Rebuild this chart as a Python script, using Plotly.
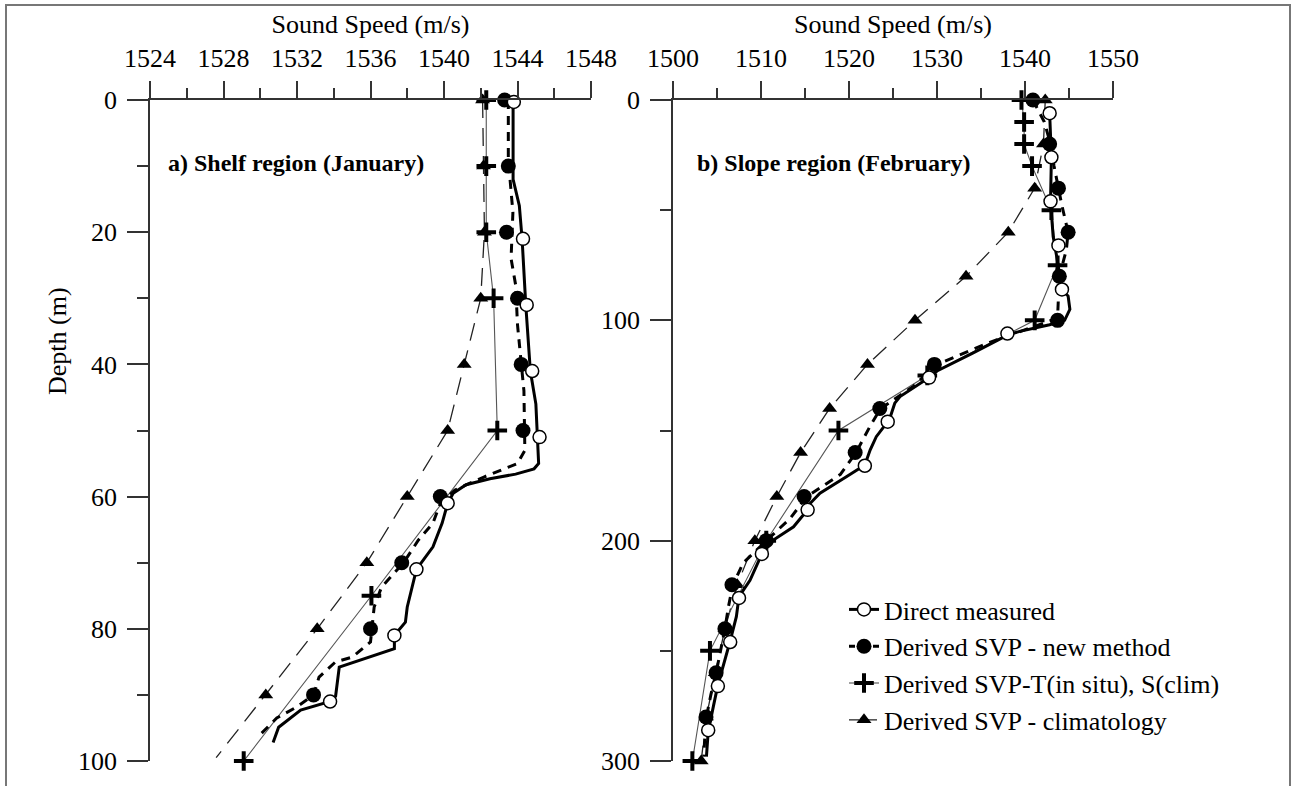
import plotly.graph_objects as go

W, H = 1292, 786
FONT = "Liberation Serif"

# ---------------- Panel a) Shelf region (January) ----------------
a_dir_line_depth = [0, 12, 16, 21, 31, 41, 46, 51, 55, 55.8, 56.6, 57.3, 58.2, 59.5, 61, 64, 67.6, 71, 76.7, 79, 81, 83, 85.8, 90.2, 91, 92.3, 94.9, 97.2]
a_dir_line_speed = [1543.76, 1543.76, 1544.1, 1544.25, 1544.45, 1544.7, 1545.0, 1545.1, 1545.15, 1544.9, 1543.9, 1542.5, 1541.2, 1540.5, 1540.2, 1539.9, 1539.4, 1538.5, 1538.0, 1537.9, 1537.3, 1537.3, 1534.3, 1534.1, 1533.8, 1532.2, 1531.0, 1530.7]
a_dir_mark_depth = [0.3, 21, 31, 41, 51, 61, 71, 81, 91]
a_dir_mark_speed = [1543.8, 1544.3, 1544.5, 1544.8, 1545.2, 1540.2, 1538.5, 1537.3, 1533.8]

a_new_line_depth = [0, 9, 17, 24, 28, 34, 44, 53, 55, 57, 59, 61, 64, 66.6, 70, 73.7, 76.7, 82, 84.3, 85, 87.3, 90, 91.8, 93.5, 96]
a_new_line_speed = [1543.5, 1543.5, 1543.75, 1543.65, 1543.9, 1544.0, 1544.35, 1544.4, 1544.0, 1542.2, 1540.6, 1539.8, 1539.4, 1538.6, 1537.8, 1536.6, 1536.2, 1536.0, 1535.0, 1534.1, 1533.2, 1532.9, 1532.0, 1530.9, 1530.0]
a_new_mark_depth = [0, 10, 20, 30, 40, 50, 60, 70, 80, 90]
a_new_mark_speed = [1543.3, 1543.5, 1543.4, 1544.0, 1544.2, 1544.3, 1539.8, 1537.7, 1536.0, 1532.9]

a_tis_depth = [0, 10, 20, 30, 50, 75, 100]
a_tis_speed = [1542.3, 1542.3, 1542.3, 1542.7, 1542.9, 1536.05, 1529.1]

a_clim_line_depth = [0, 10, 20, 30, 40, 50, 60, 70, 80, 90, 99.5]
a_clim_line_speed = [1542.1, 1542.15, 1542.2, 1542.0, 1541.1, 1540.2, 1538.0, 1535.8, 1533.1, 1530.3, 1527.6]
a_clim_mark_depth = [0, 10, 20, 30, 40, 50, 60, 70, 80, 90]
a_clim_mark_speed = [1542.1, 1542.15, 1542.2, 1542.0, 1541.1, 1540.2, 1538.0, 1535.8, 1533.1, 1530.3]

# ---------------- Panel b) Slope region (February) ----------------
b_dir_line_depth = [6, 26, 46, 51, 62, 71, 81.7, 86, 89, 95, 100, 102, 105, 106.7, 115, 123, 126, 134.6, 137.6, 143.7, 146, 152.8, 158.9, 165.7, 171, 178.5, 183, 186, 193.7, 199.7, 206, 218, 225.4, 234.5, 245.5, 257, 265.5, 275, 286.7, 298]
b_dir_line_speed = [1542.8, 1543.0, 1542.9, 1543.0, 1543.2, 1543.6, 1544.0, 1544.2, 1544.9, 1545.1, 1544.5, 1542.8, 1539.4, 1538.0, 1534.0, 1530.0, 1529.1, 1525.8, 1525.2, 1524.7, 1524.4, 1523.1, 1522.4, 1521.8, 1519.7, 1516.7, 1515.6, 1515.3, 1513.7, 1511.4, 1510.1, 1508.75, 1507.5, 1507.2, 1506.5, 1505.7, 1505.1, 1504.6, 1504.0, 1503.8]
b_dir_mark_depth = [6, 26, 46, 66, 86, 106, 126, 146, 166, 186, 206, 226, 246, 266, 286]
b_dir_mark_speed = [1542.8, 1543.0, 1542.9, 1543.8, 1544.2, 1538.0, 1529.1, 1524.4, 1521.8, 1515.3, 1510.1, 1507.5, 1506.5, 1505.1, 1504.0]

b_new_line_depth = [0, 10, 20, 30, 40, 48, 60, 68, 80, 90, 99, 105, 110, 120, 130, 140, 148, 160, 170, 180, 190, 200, 210, 220, 230, 240, 250, 260, 270, 280, 290, 298]
b_new_line_speed = [1540.9, 1542.2, 1542.9, 1543.3, 1543.8, 1544.2, 1544.9, 1544.7, 1543.9, 1543.8, 1543.7, 1539.5, 1536.0, 1530.0, 1527.3, 1523.6, 1522.4, 1520.8, 1519.0, 1515.2, 1513.3, 1510.6, 1508.0, 1506.8, 1506.3, 1505.9, 1505.4, 1504.9, 1504.3, 1503.8, 1503.6, 1503.5]
b_new_mark_depth = [0, 20, 40, 60, 80, 100, 120, 140, 160, 180, 200, 220, 240, 260, 280]
b_new_mark_speed = [1540.9, 1542.8, 1543.8, 1544.9, 1543.9, 1543.7, 1529.7, 1523.5, 1520.7, 1514.9, 1510.6, 1506.7, 1505.9, 1504.9, 1503.75]

b_tis_depth = [0, 10, 20, 30, 50, 75, 100, 125, 150, 200, 250, 300]
b_tis_speed = [1539.6, 1539.9, 1539.9, 1540.8, 1543.0, 1543.7, 1541.1, 1528.9, 1518.8, 1510.6, 1504.2, 1502.2]

b_clim_depth = [0, 20, 40, 60, 80, 100, 120, 140, 160, 180, 200, 220, 240, 260, 280, 300]
b_clim_speed = [1542.3, 1542.1, 1541.1, 1538.1, 1533.3, 1527.5, 1522.1, 1517.8, 1514.5, 1511.8, 1509.3, 1507.3, 1505.9, 1504.8, 1503.8, 1503.2]

series_names = ["Direct measured", "Derived SVP - new method",
                "Derived SVP-T(in situ), S(clim)", "Derived SVP - climatology"]

fig = go.Figure()

def add_line(x, y, xa, ya, width, dash, color):
    fig.add_trace(go.Scatter(x=x, y=y, xaxis=xa, yaxis=ya, mode="lines",
                             line=dict(color=color, width=width, dash=dash),
                             showlegend=False, cliponaxis=False, hoverinfo="skip"))

def add_marks(x, y, xa, ya, symbol, size, fill, lw=1.5):
    fig.add_trace(go.Scatter(x=x, y=y, xaxis=xa, yaxis=ya, mode="markers",
                             marker=dict(symbol=symbol, size=size, color=fill,
                                         line=dict(color="black", width=lw)),
                             showlegend=False, cliponaxis=False))

DASH_NEW = "9px,7px"
DASH_CLIM = "18px,10px"

for xa, ya, d in [("x", "y", "a"), ("x2", "y2", "b")]:
    g = globals()
    # climatology
    if d == "a":
        add_line(a_clim_line_speed, a_clim_line_depth, xa, ya, 1.3, DASH_CLIM, "#222")
        add_marks(a_clim_mark_speed, a_clim_mark_depth, xa, ya, "triangle-up", 13, "black", 0)
    else:
        add_line(b_clim_speed, b_clim_depth, xa, ya, 1.3, DASH_CLIM, "#222")
        add_marks(b_clim_speed, b_clim_depth, xa, ya, "triangle-up", 13, "black", 0)
    # T in situ
    tis_s, tis_d = g[d + "_tis_speed"], g[d + "_tis_depth"]
    add_line(tis_s, tis_d, xa, ya, 1.1, "solid", "#555")
    add_marks(tis_s, tis_d, xa, ya, "cross-thin", 14, "black", 4)
    # new method
    add_line(g[d + "_new_line_speed"], g[d + "_new_line_depth"], xa, ya, 3, DASH_NEW, "black")
    add_marks(g[d + "_new_mark_speed"], g[d + "_new_mark_depth"], xa, ya, "circle", 15, "black", 0)
    # direct measured
    add_line(g[d + "_dir_line_speed"], g[d + "_dir_line_depth"], xa, ya, 3, "solid", "black")
    add_marks(g[d + "_dir_mark_speed"], g[d + "_dir_mark_depth"], xa, ya, "circle", 13, "white", 1.5)

# legend-only entries
leg_styles = [
    dict(line=dict(color="black", width=3), marker=dict(symbol="circle", size=13, color="white", line=dict(color="black", width=1.5))),
    dict(line=dict(color="black", width=3, dash="6px,6px"), marker=dict(symbol="circle", size=15, color="black")),
    dict(line=dict(color="#555", width=1.1), marker=dict(symbol="cross-thin", size=14, color="black", line=dict(color="black", width=4))),
    dict(line=dict(color="#222", width=1.3, dash="10px,8px"), marker=dict(symbol="triangle-up", size=13, color="black")),
]
for name, st in zip(series_names, leg_styles):
    fig.add_trace(go.Scatter(x=[None], y=[None], mode="lines+markers", name=name,
                             line=st["line"], marker=st["marker"], showlegend=True))

ydom = [(H - 761) / H, (H - 100) / H]
axis_common = dict(showgrid=False, zeroline=False, showline=True, linecolor="#333", linewidth=1.5,
                   ticks="outside", tickcolor="#333", tickwidth=1.5, automargin=False,
                   tickfont=dict(family=FONT, size=26, color="black"))

fig.update_layout(
    width=W, height=H, margin=dict(l=0, r=0, t=0, b=0, autoexpand=False),
    paper_bgcolor="white", plot_bgcolor="white",
    font=dict(family=FONT, size=26, color="black"),
    xaxis=dict(domain=[150 / W, 591 / W], range=[1524, 1548], side="top", anchor="y",
               tickmode="array", tickvals=[1524, 1528, 1532, 1536, 1540, 1544, 1548], ticklen=17,
               ticklabelstandoff=4,
               minor=dict(tickmode="array", tickvals=[1526, 1530, 1534, 1538, 1542, 1546], ticklen=10,
                          tickcolor="#333", tickwidth=1.5, ticks="outside"),
               title=dict(text="Sound Speed (m/s)", standoff=3, font=dict(family=FONT, size=26)),
               **axis_common),
    yaxis=dict(domain=ydom, range=[100, 0], anchor="x",
               tickmode="array", tickvals=[0, 20, 40, 60, 80, 100], ticklen=21,
               ticklabelstandoff=5,
               minor=dict(tickmode="array", tickvals=[10, 30, 50, 70, 90], ticklen=11,
                          tickcolor="#333", tickwidth=1.5, ticks="outside"),
               **axis_common),
    xaxis2=dict(domain=[673 / W, 1113 / W], range=[1500, 1550], side="top", anchor="y2",
                tickmode="array", tickvals=[1500, 1510, 1520, 1530, 1540, 1550], ticklen=17,
                ticklabelstandoff=4,
                minor=dict(tickmode="array", tickvals=[1505, 1515, 1525, 1535, 1545], ticklen=10,
                           tickcolor="#333", tickwidth=1.5, ticks="outside"),
                title=dict(text="Sound Speed (m/s)", standoff=3, font=dict(family=FONT, size=26)),
                **axis_common),
    yaxis2=dict(domain=ydom, range=[300, 0], anchor="x2",
                tickmode="array", tickvals=[0, 100, 200, 300], ticklen=21,
                ticklabelstandoff=5,
                minor=dict(tickmode="array", tickvals=[50, 150, 250], ticklen=11,
                           tickcolor="#333", tickwidth=1.5, ticks="outside"),
                **axis_common),
    legend=dict(x=844 / W, y=(H - 586) / H, xanchor="left", yanchor="top",
                font=dict(family=FONT, size=26, color="black"), bgcolor="rgba(0,0,0,0)",
                tracegroupgap=0, itemsizing="trace"),
    shapes=[dict(type="rect", xref="paper", yref="paper", x0=6 / W, x1=1290 / W, y0=-0.02, y1=(H - 5) / H,
                 line=dict(color="#777", width=2), fillcolor="rgba(0,0,0,0)", layer="below")],
    annotations=[
        dict(text="Depth (m)", xref="paper", yref="paper", x=57 / W, y=(H - 341) / H, textangle=-90,
             xanchor="center", yanchor="middle",
             showarrow=False, font=dict(family=FONT, size=26, color="black")),
        dict(text="<b>a) Shelf region (January)</b>", xref="paper", yref="paper", x=166 / W, y=(H - 163) / H,
             xanchor="left", yanchor="middle", showarrow=False, font=dict(family=FONT, size=24, color="black")),
        dict(text="<b>b) Slope region (February)</b>", xref="paper", yref="paper", x=695 / W, y=(H - 163) / H,
             xanchor="left", yanchor="middle", showarrow=False, font=dict(family=FONT, size=24, color="black")),
    ],
)

fig.write_html("out.html")
